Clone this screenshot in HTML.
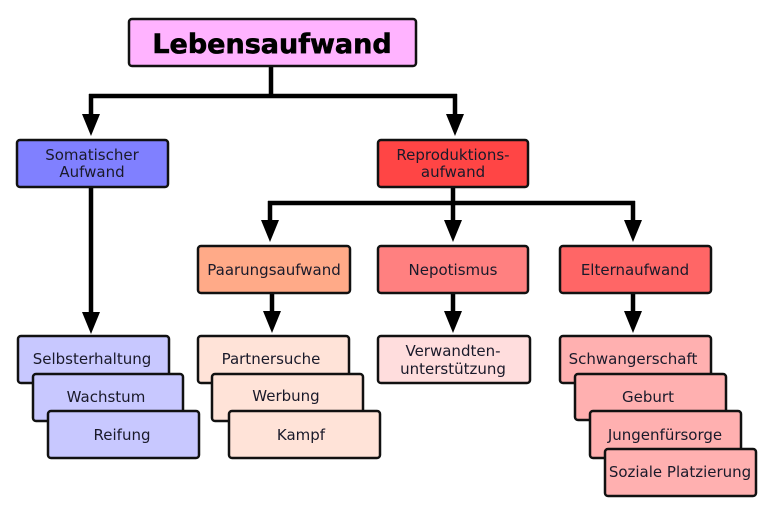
<!DOCTYPE html>
<html><head><meta charset="utf-8"><style>html,body{margin:0;padding:0;background:#fff}svg{display:block}</style></head>
<body>
<svg width="768" height="512" viewBox="0 0 768 512" xmlns="http://www.w3.org/2000/svg" font-family="DejaVu Sans, Liberation Sans, sans-serif">
<g stroke="#000" stroke-width="4.5" fill="none">
<path d="M271,66 V96 M89,96 H457 M91,94 V122 M455,94 V122"/>
<path d="M91,187 V318"/>
<path d="M453,187 V203 M268,203 H635 M270,201 V228 M453,201 V228 M633,201 V228"/>
<path d="M272,293 V318 M453,293 V318 M633,293 V318"/>
</g>
<g fill="#000">
<polygon points="82,114 100,114 91,136"/>
<polygon points="446,114 464,114 455,136"/>
<polygon points="82,312 100,312 91,334"/>
<polygon points="261,220 279,220 270,242"/>
<polygon points="444,220 462,220 453,242"/>
<polygon points="624,220 642,220 633,242"/>
<polygon points="263,311 281,311 272,333"/>
<polygon points="444,311 462,311 453,333"/>
<polygon points="624,311 642,311 633,333"/>
</g>
<g stroke="#111" stroke-width="2.5">
<rect x="129" y="19" width="287" height="47" rx="3" fill="#ffb3ff"/>
<rect x="17" y="140" width="151" height="47" rx="3" fill="#8080ff"/>
<rect x="378" y="140" width="150" height="47" rx="3" fill="#ff4545"/>
<rect x="198" y="246" width="152" height="47" rx="3" fill="#ffaa88"/>
<rect x="378" y="246" width="150" height="47" rx="3" fill="#ff8080"/>
<rect x="560" y="246" width="151" height="47" rx="3" fill="#ff6666"/>
<rect x="18" y="336" width="151" height="47" rx="3" fill="#c8c8ff"/>
<rect x="33" y="374" width="150" height="47" rx="3" fill="#c8c8ff"/>
<rect x="48" y="411" width="151" height="47" rx="3" fill="#c8c8ff"/>
<rect x="198" y="336" width="151" height="47" rx="3" fill="#ffe3d8"/>
<rect x="212" y="374" width="151" height="47" rx="3" fill="#ffe3d8"/>
<rect x="229" y="411" width="151" height="47" rx="3" fill="#ffe3d8"/>
<rect x="378" y="336" width="152" height="47" rx="3" fill="#ffdddd"/>
<rect x="560" y="336" width="151" height="47" rx="3" fill="#ffb0b0"/>
<rect x="575" y="374" width="151" height="46" rx="3" fill="#ffb0b0"/>
<rect x="590" y="411" width="151" height="47" rx="3" fill="#ffb0b0"/>
<rect x="605" y="449" width="151" height="47" rx="3" fill="#ffb0b0"/>
</g>
<g text-anchor="middle" font-size="15" fill="#1a1a2a">
<text x="272" y="53" font-size="27" font-weight="bold" fill="#000" stroke="#000" stroke-width="0.6">Lebensaufwand</text>
<text x="92" y="160">Somatischer</text><text x="92" y="177">Aufwand</text>
<text x="453" y="160">Reproduktions-</text><text x="453" y="177">aufwand</text>
<text x="274" y="275">Paarungsaufwand</text>
<text x="453" y="275">Nepotismus</text>
<text x="635" y="275">Elternaufwand</text>
<text x="92" y="364">Selbsterhaltung</text>
<text x="106" y="402">Wachstum</text>
<text x="122" y="440">Reifung</text>
<text x="271" y="364">Partnersuche</text>
<text x="286" y="401">Werbung</text>
<text x="301" y="440">Kampf</text>
<text x="453" y="356">Verwandten-</text><text x="453" y="374">unterstützung</text>
<text x="633" y="364">Schwangerschaft</text>
<text x="648" y="402">Geburt</text>
<text x="665" y="440">Jungenfürsorge</text>
<text x="680" y="477">Soziale Platzierung</text>
</g>
</svg>
</body></html>
